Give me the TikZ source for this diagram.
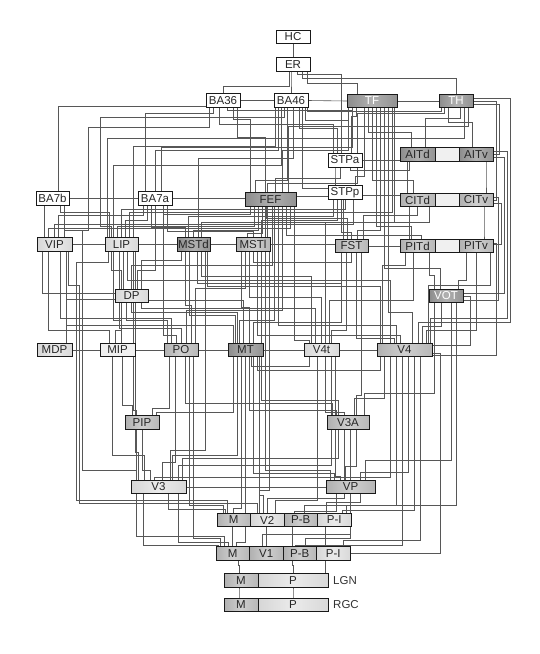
\documentclass[tikz,border=0pt]{standalone}
\usepackage{fontspec}
\setmainfont{Liberation Sans}
\usetikzlibrary{backgrounds}
\begin{document}
\begin{tikzpicture}[x=1pt,y=-1pt,
  box/.style={draw=black!90,line width=0.9pt,minimum height=13.5pt,inner sep=0pt,outer sep=0pt,font=\fontsize{11.5}{12}\selectfont,text=black!85},
  wf/.style={box,fill=white},
  lf/.style={box,left color=gray!32,right color=gray!30,middle color=gray!16},
  mf/.style={box,left color=gray!62,right color=gray!56,middle color=gray!38},
  df/.style={box,left color=gray!90,right color=gray!85,middle color=gray!62},
  gapf/.style={box,fill=gray!12},
  wire/.style={draw=black!66,line width=0.6pt},
  lab/.style={anchor=west,inner sep=0pt,font=\fontsize{11.5}{12}\selectfont,text=black!80}]
\useasboundingbox (0,0) rectangle (540,654);
% ---------------- nodes ----------------
\node[wf,minimum width=34pt] (HC) at (293,37) {HC};
\node[wf,minimum width=34pt] (ER) at (293,64.5) {ER};
\node[wf,minimum width=34pt] (BA36) at (223,100.5) {BA36};
\node[wf,minimum width=34pt] (BA46) at (291,100.5) {BA46};
\node[df,minimum width=50pt,text=white] (TF) at (372,101) {TF};
\node[df,minimum width=34pt,text=white] (TH) at (456,101) {TH};
\node[wf,minimum width=34pt,minimum height=14pt] (STPa) at (345,160) {STPa};
\node[df,minimum width=35pt] (AITd) at (417.5,154.5) {AITd};
\node[gapf,minimum width=24pt] (AITm) at (447,154.5) {};
\node[df,minimum width=34pt] (AITv) at (476,154.5) {AITv};
\node[wf,minimum width=33pt] (BA7b) at (52.5,198.5) {BA7b};
\node[wf,minimum width=34pt] (BA7a) at (155,198.5) {BA7a};
\node[df,minimum width=51pt] (FEF) at (270.5,199.5) {FEF};
\node[wf,minimum width=34pt] (STPp) at (345,192.5) {STPp};
\node[mf,minimum width=35pt] (CITd) at (417.5,200) {CITd};
\node[gapf,minimum width=24pt] (CITm) at (447,200) {};
\node[mf,minimum width=34pt] (CITv) at (476,200) {CITv};
\node[lf,minimum width=35pt] (VIP) at (54.5,244.5) {VIP};
\node[lf,minimum width=33pt] (LIP) at (121.5,244.5) {LIP};
\node[df,minimum width=33pt] (MSTd) at (193.5,244.5) {MSTd};
\node[mf,minimum width=34pt] (MSTl) at (253,244.5) {MSTl};
\node[mf,minimum width=33pt] (FST) at (351.5,246) {FST};
\node[mf,minimum width=35pt] (PITd) at (417.5,246) {PITd};
\node[gapf,minimum width=24pt] (PITm) at (447,246) {};
\node[mf,minimum width=34pt] (PITv) at (476,246) {PITv};
\node[lf,minimum width=33pt] (DP) at (131.5,296) {DP};
\node[df,minimum width=34pt,text=white] (VOT) at (446,296) {VOT};
\node[lf,minimum width=35pt] (MDP) at (54.5,350) {MDP};
\node[gapf,minimum width=35pt] (MIP) at (117.5,350) {MIP};
\node[mf,minimum width=34pt] (PO) at (181,350) {PO};
\node[df,minimum width=35pt] (MT) at (245.5,350) {MT};
\node[lf,minimum width=35pt] (V4t) at (321.5,350) {V4t};
\node[mf,minimum width=55pt] (V4) at (404.5,350) {V4};
\node[mf,minimum width=34pt] (PIP) at (142,422.5) {PIP};
\node[mf,minimum width=42pt] (V3A) at (348,422.5) {V3A};
\node[lf,minimum width=55pt] (V3) at (158.5,487) {V3};
\node[mf,minimum width=49pt] (VP) at (350.5,487) {VP};
\node[mf,minimum width=33.5pt] (v2m) at (233.75,520) {M};
\node[lf,minimum width=33.5pt] (v2) at (267.25,520) {V2};
\node[mf,minimum width=33.5pt] (v2pb) at (300.75,520) {P-B};
\node[lf,minimum width=33.5pt] (v2pi) at (334.25,520) {P-I};
\node[mf,minimum width=33.5pt] (v1m) at (232.75,553.5) {M};
\node[mf,minimum width=33.5pt] (v1) at (266.25,553.5) {V1};
\node[mf,minimum width=33.5pt] (v1pb) at (299.75,553.5) {P-B};
\node[lf,minimum width=33.5pt] (v1pi) at (333.25,553.5) {P-I};
\node[mf,minimum width=34pt] (lgnm) at (241,580.5) {M};
\node[lf,minimum width=70pt] (lgnp) at (293,580.5) {P};
\node[lab] (lgnl) at (333,580.5) {LGN};
\node[mf,minimum width=34pt] (rgcm) at (241,605) {M};
\node[lf,minimum width=70pt] (rgcp) at (293,605) {P};
\node[lab] (rgcl) at (333,605) {RGC};
% ---------------- connectors ----------------
\begin{pgfonlayer}{background}
\fill[white] (0,0) rectangle (540,654);
% vertical - horizontal - vertical
\foreach \pa/\pda/\plv/\pb/\pdb in {
 ER.south/-4/86/BA36.north/0, ER.south/-2/80/BA46.north/0, ER.south/4/74/STPa.north/-4,
 ER.south/9/78/TH.north/0, ER.south/14/83/TF.north/-15,
 BA36.south/-10/113/BA7a.north/-10, BA36.south/-4/124/STPa.north/-12,
 BA36.south/4/110/TF.south/-20, BA36.south/10/119/FEF.north/-20,
 BA36.south/14/137/MSTl.north/12,
 BA7b.north/6/106/BA36.south/-6,
 BA46.south/-13/150/BA7a.north/0, BA46.south/-10/165/LIP.north/-8,
 BA46.south/-4/180/FEF.north/-15,
 BA46.south/2/158/MSTd.north/5,
 BA46.south/8/128/STPa.north/-8, BA46.south/11/188/FST.north/-8,
 BA46.south/14/120/TF.south/-24, BA46.south/-16/146/LIP.north/12,
 TF.south/-20/147/BA7a.north/6, TF.south/-16/116/STPa.north/6,
 TF.south/-8/176/STPp.north/10, TF.south/-4/132/AITd.north/-6,
 TF.south/0/180/CITd.north/-4, TF.south/4/226/PITd.north/-6,
 TF.south/8/230/FST.north/6, TF.south/12/268/VOT.north/-6,
 TF.south/16/312/V4.north/8, TF.south/20/212/LIP.north/8,
 TF.south/-24/150/FEF.north/12, TF.south/22/222/MSTd.north/8,
 TH.south/-12/113/STPa.north/12, TH.south/-8/122/AITv.north/-4,
 TH.south/12/126/FEF.north/18, TH.south/4/118/AITd.north/8,
 TH.south/8/138/LIP.north/-14, TH.south/-15/111/BA46.south/16,
 STPa.south/-10/172/STPp.north/-10, STPa.south/-5/178/FEF.north/5,
 STPa.south/5/170/AITd.south/-8, STPa.south/12/183/MSTl.north/14,
 AITd.south/-10/183/CITd.north/-10, AITv.south/10/183/CITv.north/10,
 STPp.south/-12/216/MSTd.north/-5, STPp.south/-8/220/MSTl.north/8,
 STPp.south/-4/232/FST.north/0, STPp.south/0/209/LIP.north/0,
 STPp.south/8/224/VIP.north/0,
 FEF.south/-20/214/BA7a.south/8, FEF.south/-16/226/LIP.north/-4,
 FEF.south/-12/230/MSTd.north/0, FEF.south/-8/233/MSTl.north/-6,
 FEF.south/-4/218/FST.north/-4, FEF.south/2/265/DP.north/0,
 FEF.south/4/320/MT.north/-6, FEF.south/8/325/V4.north/-8,
 FEF.south/12/310/PO.north/5, FEF.south/16/235/PITd.north/4,
 FEF.south/20/228/VIP.north/-6, FEF.south/24/340/V4t.north/-12,
 BA7a.south/-12/215/VIP.north/4, BA7a.south/-8/220/LIP.north/4,
 BA7a.south/-4/227/MSTd.north/-8, BA7a.south/0/270/DP.north/6,
 BA7a.south/8/335/PO.north/-5, BA7a.south/12/231/MSTl.north/0,
 BA7b.south/-8/220/VIP.north/-10, BA7b.south/8/212/LIP.north/-12,
 VIP.south/-6/330/MIP.north/-8,
 VIP.south/6/318/PO.north/-10, VIP.south/12/325/MT.north/-12,
 LIP.south/-10/270/DP.north/-10, LIP.south/-8/320/MIP.north/4,
 LIP.south/-2/328/PO.north/0, LIP.south/2/300/MT.north/-2,
 LIP.south/6/280/V4.north/-14, LIP.south/12/410/PIP.north/-6,
 LIP.south/14/452/V3.north/-20,
 MSTd.south/-12/260/DP.north/10, MSTd.south/-8/305/PO.north/10,
 MSTd.south/-4/315/MT.north/-10, MSTd.south/4/283/FST.south/-10,
 MSTd.south/8/276/V4t.north/-10, MSTd.south/12/450/V3.north/12,
 MSTl.south/-12/307/MT.north/4, MSTl.south/-8/288/PO.north/14,
 MSTl.south/-4/297/V4t.north/0, MSTl.south/0/262/FST.south/0,
 MSTl.south/4/335/V4.north/-4, MSTl.south/8/400/V3A.north/-10,
 MSTl.south/12/470/VP.north/-20, MSTl.south/16/490/v2.north/-8,
 FST.south/-10/322/MT.north/8, FST.south/-5/330/V4t.north/10,
 FST.south/5/338/V4.north/-10, FST.south/10/395/V3A.north/8,
 CITd.south/-8/235/PITd.north/-8, CITv.south/8/235/PITv.north/8,
 CITd.south/0/215/FST.north/12, CITd.south/12/222/V4t.north/4,
 PITd.south/12/275/VOT.north/-12, PITv.south/-10/280/VOT.north/12,
 PITd.south/-12/265/V4.north/-22, PITd.south/-4/300/V4t.north/8,
 PITv.south/0/330/V4.north/22,
 DP.south/-10/330/MIP.north/-2, DP.south/-5/320/PO.north/-14,
 DP.south/0/312/MT.north/-8, DP.south/10/308/V4t.north/-6,
 VOT.south/-5/326/V4.north/18, VOT.south/5/460/VP.north/15,
 VOT.south/10/505/v2pi.north/12, VOT.south/-12/393/V3A.north/16,
 MIP.south/5/405/PIP.north/-10, MIP.south/-5/455/V3.north/-14,
 PO.south/-12/408/PIP.north/10, PO.south/-6/462/V3.north/4,
 PO.south/8/505/v2m.north/-10, PO.south/4/403/V3A.north/-16,
 PO.south/12/538/v1m.north/-12,
 MT.south/-12/412/PIP.north/14, MT.south/-8/455/V3.north/14,
 MT.south/-4/508/v2m.north/0, MT.south/0/542/v1m.north/4,
 MT.south/4/410/V3A.north/-12, MT.south/8/473/VP.north/-16,
 MT.south/12/370/V4.south/-24, MT.south/14/495/v2.north/-4,
 V4t.south/-12/366/MT.south/6, V4t.south/-4/500/v2.north/8,
 V4t.south/4/412/V3A.north/-4, V4t.south/10/465/V3.north/20,
 V4t.south/14/476/VP.north/-10,
 V4.south/-20/398/V3A.north/6, V4.south/-14/477/V3.north/-4,
 V4.south/-8/505/v2pb.north/4, V4.south/-2/545/v1pb.north/-4,
 V4.south/4/472/VP.north/10, V4.south/10/510/v2pi.north/8,
 V4.south/16/540/v1pi.north/10,
 V4.north/-24/286/MSTd.south/14, V4.north/24/285/PITv.south/14,
 PIP.south/0/470/V3.north/-8, PIP.south/-6/536/v1m.north/-8,
 V3A.south/-10/458/V3.north/24, V3A.south/-4/498/v2.north/0,
 V3A.south/2/534/v1.north/-4, V3A.south/8/466/VP.north/-5,
 V3.south/10/509/v2m.north/-8, V3.south/20/542/v1m.north/-4,
 V3.south/-15/545/v1m.north/-14,
 VP.south/-14/511/v2pb.north/-6, VP.south/0/538/v1pb.north/6,
 VP.south/10/502/v2pi.north/-8,
 v1m.north/0/530/v2m.south/-1, v1.north/0/530/v2.south/-1,
 v1pb.north/-7/530/v2pb.south/-8, v1pi.north/-8/530/v2pi.south/-9,
 lgnm.north/-2/565/v1m.south/6, lgnp.north/0/565/v1pb.south/-7,
 lgnp.north/32/565/v1pi.south/-8,
 rgcm.north/-2/590/lgnm.south/-2, rgcp.north/0/590/lgnp.south/0}
{\coordinate (lv) at (0,\plv);
 \draw[wire] ([xshift=\pda pt]\pa) -- ([xshift=\pda pt]\pa |- lv) -| ([xshift=\pdb pt]\pb);}
% vertical then horizontal into the side of the target
\foreach \pa/\pda/\plv/\pb in {
 VIP.south/-12/293/DP.west, MDP.north/12/299/DP.west}
{\coordinate (lv) at (0,\plv);
 \draw[wire] ([xshift=\pda pt]\pa) -- ([xshift=\pda pt]\pa |- lv) -- (\pb |- lv);}
% vertical - horizontal - vertical - horizontal - vertical (detours)
\foreach \pa/\pda/\plv/\px/\plw/\pb/\pdb in {
 BA36.south/-14/127/88/230/VIP.north/10,
 BA46.south/-7/117/100/226/LIP.north/-10,
 LIP.south/-13/262/76/500/v2m.north/-6,
 VIP.south/14/285/79/503/v2.north/-10,
 BA7b.south/12/230/82/470/V3.north/-22}
{\coordinate (lv) at (0,\plv); \coordinate (sv) at (\px,\plw);
 \draw[wire] ([xshift=\pda pt]\pa) -- ([xshift=\pda pt]\pa |- lv) -| (sv) -| ([xshift=\pdb pt]\pb);}
% side routes ending on a side of the target
\foreach \pa/\pdy/\px/\plv/\pb in {
 TH.east/-3/499/154/AITv.east, TH.east/0/496/200/CITv.east,
 AITv.east/-3/504/293/VOT.east,
 CITv.east/-3/501/244/PITv.east, CITv.east/3/498/300/VOT.east,
 PITv.east/3/496/355/V4.east, VOT.east/0/470/345/V4.east,
 V4.east/-3/440/553/v1pi.east}
{\coordinate (sv) at (\px,\plv);
 \draw[wire] ([yshift=\pdy pt]\pa) -| (sv) -- (\pb |- sv);}
% side routes ending on the top of the target
\foreach \pa/\pdy/\px/\plv/\pb/\pdb in {
 TH.east/3/510/322/V4.north/14, AITv.east/3/507/318/V4.north/26}
{\coordinate (sv) at (\px,\plv);
 \draw[wire] ([yshift=\pdy pt]\pa) -| (sv) -| ([xshift=\pdb pt]\pb);}
% direct links
\draw[wire] (HC.south) -- (ER.north);
\draw[wire] (BA36.east) -- (BA46.west);
\draw[wire] (BA46.east) -- (TF.west);
\draw[wire] (TF.east) -- (TH.west);
\draw[wire] (BA7b.east) -- (BA7a.west);
\draw[wire] (BA7a.east) -- (BA7a.east -| FEF.west);
\draw[wire] ([yshift=3pt]FEF.east) -- ([yshift=3pt]FEF.east -| STPp.west);
\draw[wire] (STPa.east) -- (STPa.east -| AITd.west);
\draw[wire] ([yshift=-3pt]STPp.east) -- ([yshift=-3pt]STPp.east -| CITd.west);
\draw[wire] (VIP.east) -- (LIP.west);
\draw[wire] (LIP.east) -- (MSTd.west);
\draw[wire] (MSTd.east) -- (MSTl.west);
\draw[wire] (MSTl.east) -- (MSTl.east -| FST.west);
\draw[wire] (FST.east) -- (PITd.west);
\draw[wire] (MDP.east) -- (MIP.west);
\draw[wire] (MIP.east) -- (PO.west);
\draw[wire] (PO.east) -- (MT.west);
\draw[wire] (MT.east) -- (V4t.west);
\draw[wire] (V4t.east) -- (V4.west);
\draw[wire] (V3.east) -- (VP.west);
\end{pgfonlayer}
\end{tikzpicture}
\end{document}
